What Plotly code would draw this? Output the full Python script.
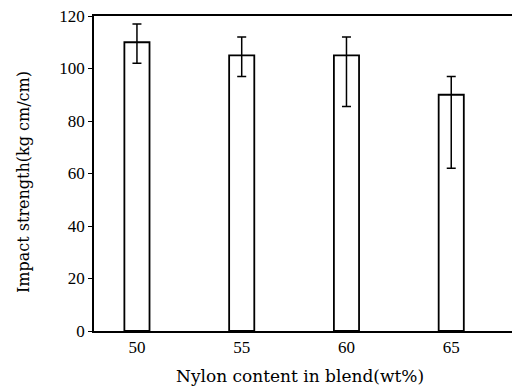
import plotly.graph_objects as go

nylon = [50, 55, 60, 65]
strength = [110, 105, 105, 90]
err_plus = [7, 7, 7, 7]
err_minus = [8, 8, 19.5, 28]
y_ticks = [0, 20, 40, 60, 80, 100, 120]

font_serif = "DejaVu Serif"

fig = go.Figure()
fig.add_trace(go.Bar(
    x=nylon, y=strength, width=1.2,
    marker=dict(color="white", line=dict(color="black", width=1.8)),
    error_y=dict(type="data", symmetric=False, array=err_plus, arrayminus=err_minus,
                 color="black", thickness=1.5, width=4.5),
    showlegend=False,
))

fig.update_layout(
    width=512, height=387,
    margin=dict(l=94, r=0, t=16, b=56),
    plot_bgcolor="white", paper_bgcolor="white",
    font=dict(family="Liberation Serif", size=17, color="black"),
    xaxis=dict(range=[47.95, 67.9], tickvals=nylon, ticktext=[str(v) for v in nylon],
               showline=True, linecolor="black", linewidth=1.5, mirror=True,
               ticks="", showgrid=False, zeroline=False),
    yaxis=dict(range=[0, 120], tickvals=y_ticks, showline=True, linecolor="black",
               linewidth=1.5, ticks="outside", ticklen=4, tickcolor="black",
               showgrid=False, zeroline=False),
    annotations=[
        dict(text="Nylon content in blend(wt%)", xref="paper", yref="paper",
             x=(300 - 94) / 418, y=-(376 - 331) / 315, xanchor="center", yanchor="middle",
             showarrow=False, font=dict(family=font_serif, size=17)),
        dict(text="Impact strength(kg cm/cm)", xref="paper", yref="paper",
             x=-(94 - 23) / 418, y=(331 - 182) / 315, xanchor="center", yanchor="middle",
             textangle=-90, showarrow=False, font=dict(family=font_serif, size=16)),
    ],
)

fig.write_html("out.html")
